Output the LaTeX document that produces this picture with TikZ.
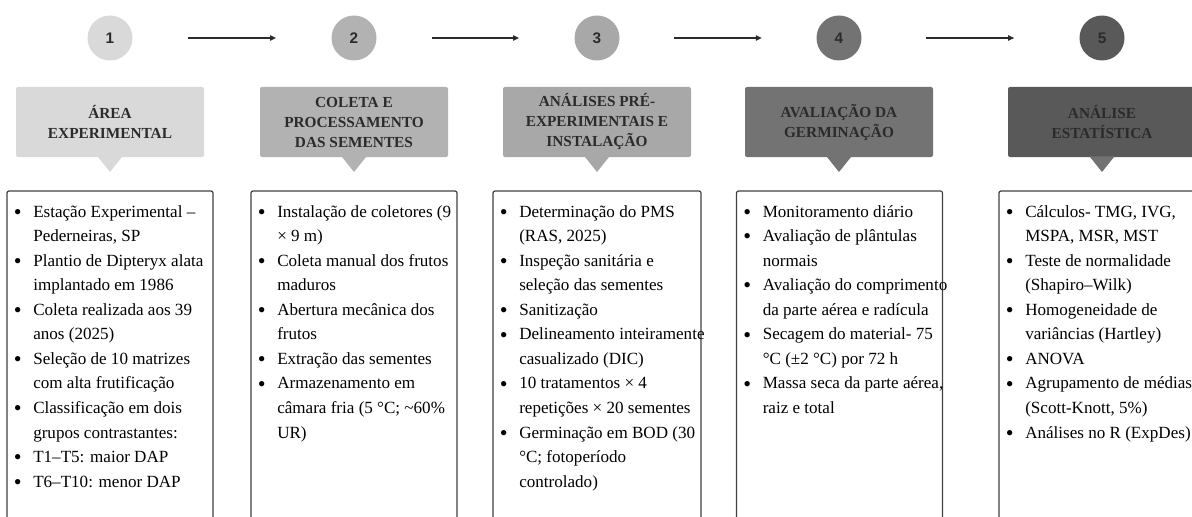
\documentclass[tikz,border=0pt]{standalone}
\usepackage{fontspec}
\setmainfont{Liberation Serif}
\newfontfamily\numfont{Liberation Sans}
\usetikzlibrary{arrows.meta}
\definecolor{g1}{HTML}{D9D9D9}
\definecolor{g2}{HTML}{B2B2B2}
\definecolor{g3}{HTML}{A8A8A8}
\definecolor{g4}{HTML}{737373}
\definecolor{g5}{HTML}{595959}
\definecolor{ink}{HTML}{2B2B2B}
\definecolor{rim}{HTML}{404040}
\newcommand{\itm}[1]{\strut\makebox[15.75pt][l]{\hspace{1.2pt}\raisebox{-1.6pt}{\scalebox{1.3}{\textbullet}}}#1}
\newcommand{\cnt}[1]{\strut\hspace*{15.75pt}#1}
\begin{document}
\begin{tikzpicture}[x=0.75pt,y=-0.75pt,
  num/.style={circle,minimum size=33.75pt,inner sep=0pt,outer sep=0pt,text=ink,font=\numfont\bfseries\fontsize{11.5}{12}\selectfont},
  head/.style={rectangle,rounded corners=1.5pt,minimum width=141pt,minimum height=52.5pt,inner sep=0pt,outer sep=0pt,align=center,text=ink,font=\fontsize{11.5}{15}\selectfont\bfseries},
  panel/.style={draw=rim,line width=0.9pt,rounded corners=1.5pt,minimum width=154.5pt,minimum height=262pt,inner sep=0pt,outer sep=0pt,anchor=north},
  list/.style={anchor=north west,inner sep=0pt,align=left,font=\fontsize{12.8}{18.4}\selectfont},
  flow/.style={-{Triangle[length=4.5pt,width=4pt]},draw=ink,line width=0.9pt}]
\useasboundingbox (0,0) rectangle (1192,517);
% step numbers
\node[num,fill=g1] (n1) at (110,38) {1};
\node[num,fill=g2] (n2) at (354,38) {2};
\node[num,fill=g3] (n3) at (597,38) {3};
\node[num,fill=g4] (n4) at (839,38) {4};
\node[num,fill=g5] (n5) at (1102,38) {5};
\draw[flow,shorten <=41.6pt,shorten >=41.6pt] (n1) -- (n2);
\draw[flow,shorten <=41.6pt,shorten >=41.6pt] (n2) -- (n3);
\draw[flow,shorten <=41pt,shorten >=41pt] (n3) -- (n4);
\draw[flow,shorten <=48pt,shorten >=49pt] (n4) -- (n5);
% headers
\node[head,fill=g1] (h1) at (110,122) {ÁREA\\EXPERIMENTAL};
\node[head,fill=g2] (h2) at (354,122) {COLETA E\\PROCESSAMENTO\\DAS SEMENTES};
\node[head,fill=g3] (h3) at (597,122) {ANÁLISES PRÉ-\\EXPERIMENTAIS E\\INSTALAÇÃO};
\node[head,fill=g4] (h4) at (839,122) {AVALIAÇÃO DA\\GERMINAÇÃO};
\node[head,fill=g5] (h5) at (1102,122) {ANÁLISE\\ESTATÍSTICA};
\fill[g1] ([xshift=-9.4pt,yshift=0.5pt]h1.south) -- ([xshift=9.4pt,yshift=0.5pt]h1.south) -- ([yshift=-11.25pt]h1.south) -- cycle;
\fill[g2] ([xshift=-9.4pt,yshift=0.5pt]h2.south) -- ([xshift=9.4pt,yshift=0.5pt]h2.south) -- ([yshift=-11.25pt]h2.south) -- cycle;
\fill[g3] ([xshift=-9.4pt,yshift=0.5pt]h3.south) -- ([xshift=9.4pt,yshift=0.5pt]h3.south) -- ([yshift=-11.25pt]h3.south) -- cycle;
\fill[g4] ([xshift=-9.4pt,yshift=0.5pt]h4.south) -- ([xshift=9.4pt,yshift=0.5pt]h4.south) -- ([yshift=-11.25pt]h4.south) -- cycle;
\fill[g5!85!white] ([xshift=-9.4pt,yshift=0.5pt]h5.south) -- ([xshift=9.4pt,yshift=0.5pt]h5.south) -- ([yshift=-11.25pt]h5.south) -- cycle;
% detail panels
\node[panel] (p1) at (110,191) {};
\node[panel] (p2) at (354,191) {};
\node[panel,minimum width=156pt] (p3) at (597,191) {};
\node[panel] (p4) at (839.5,191) {};
\node[panel] (p5) at (1102,191) {};
\node[list] (l1) at ([xshift=3.75pt,yshift=-6.6pt]p1.north west) {%
\itm{Estação Experimental –}\\
\cnt{Pederneiras, SP}\\
\itm{Plantio de Dipteryx alata}\\
\cnt{implantado em 1986}\\
\itm{Coleta realizada aos 39}\\
\cnt{anos (2025)}\\
\itm{Seleção de 10 matrizes}\\
\cnt{com alta frutificação}\\
\itm{Classificação em dois}\\
\cnt{grupos contrastantes:}\\
\itm{T1–T5: maior DAP}\\
\itm{T6–T10: menor DAP}};
\node[list] (l2) at ([xshift=3.75pt,yshift=-6.6pt]p2.north west) {%
\itm{Instalação de coletores (9}\\
\cnt{× 9 m)}\\
\itm{Coleta manual dos frutos}\\
\cnt{maduros}\\
\itm{Abertura mecânica dos}\\
\cnt{frutos}\\
\itm{Extração das sementes}\\
\itm{Armazenamento em}\\
\cnt{câmara fria (5 °C; \textasciitilde60\%}\\
\cnt{UR)}};
\node[list] (l3) at ([xshift=3.75pt,yshift=-6.6pt]p3.north west) {%
\itm{Determinação do PMS}\\
\cnt{(RAS, 2025)}\\
\itm{Inspeção sanitária e}\\
\cnt{seleção das sementes}\\
\itm{Sanitização}\\
\itm{Delineamento inteiramente}\\
\cnt{casualizado (DIC)}\\
\itm{10 tratamentos × 4}\\
\cnt{repetições × 20 sementes}\\
\itm{Germinação em BOD (30}\\
\cnt{°C; fotoperíodo}\\
\cnt{controlado)}};
\node[list] (l4) at ([xshift=3.75pt,yshift=-6.6pt]p4.north west) {%
\itm{Monitoramento diário}\\
\itm{Avaliação de plântulas}\\
\cnt{normais}\\
\itm{Avaliação do comprimento}\\
\cnt{da parte aérea e radícula}\\
\itm{Secagem do material- 75}\\
\cnt{°C (±2 °C) por 72 h}\\
\itm{Massa seca da parte aérea,}\\
\cnt{raiz e total}};
\node[list] (l5) at ([xshift=3.75pt,yshift=-6.6pt]p5.north west) {%
\itm{Cálculos- TMG, IVG,}\\
\cnt{MSPA, MSR, MST}\\
\itm{Teste de normalidade}\\
\cnt{(Shapiro–Wilk)}\\
\itm{Homogeneidade de}\\
\cnt{variâncias (Hartley)}\\
\itm{ANOVA}\\
\itm{Agrupamento de médias}\\
\cnt{(Scott-Knott, 5\%)}\\
\itm{Análises no R (ExpDes)}};
\end{tikzpicture}
\end{document}
